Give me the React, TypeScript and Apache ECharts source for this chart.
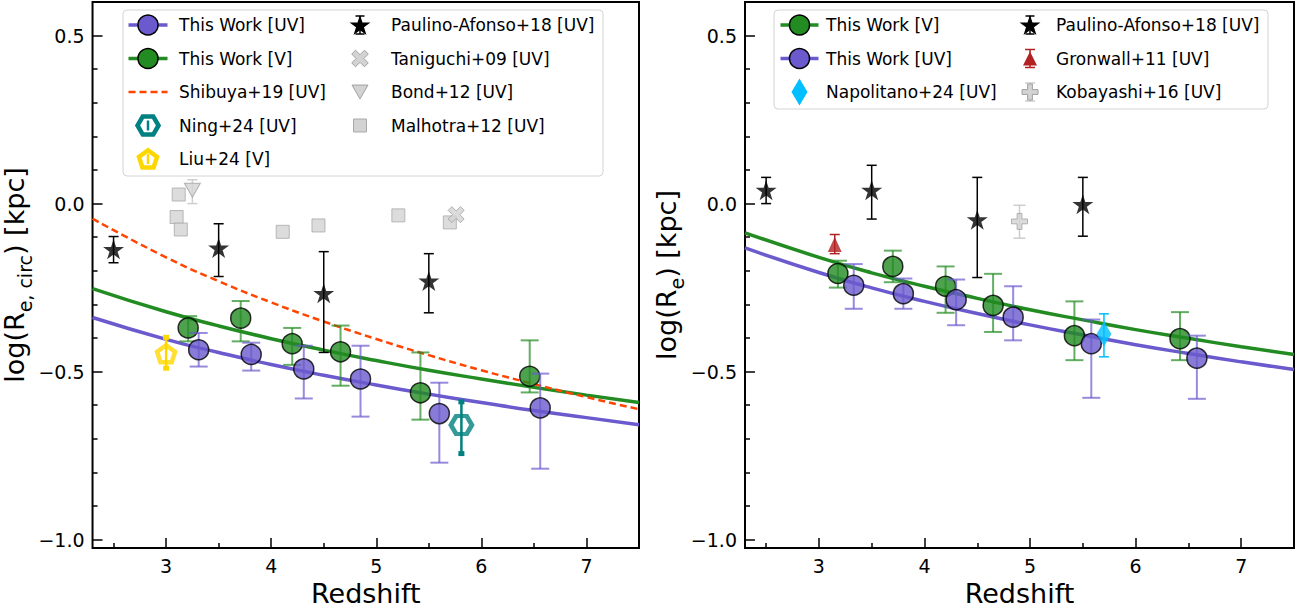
import { useEffect, useRef } from 'react';
import * as echarts from 'echarts';

// ---------------- data ----------------
const FIT_Z = [2.3, 3, 3.5, 4, 4.5, 5, 5.5, 6, 6.5, 7, 7.5];

// Left panel
const L_FIT_UV = [-0.339, -0.404, -0.443, -0.479, -0.511, -0.540, -0.567, -0.592, -0.616, -0.637, -0.658];
const L_FIT_V = [-0.253, -0.322, -0.364, -0.402, -0.436, -0.467, -0.496, -0.522, -0.547, -0.570, -0.592];
const L_SHIBUYA = [-0.045, -0.160, -0.231, -0.294, -0.351, -0.403, -0.451, -0.496, -0.537, -0.576, -0.612];

const L_UV_Z = [3.31, 3.81, 4.31, 4.85, 5.60, 6.56];
const L_UV_R = [-0.435, -0.449, -0.492, -0.522, -0.625, -0.608];
const L_UV_LO = [-0.485, -0.497, -0.580, -0.634, -0.771, -0.789];
const L_UV_HI = [-0.385, -0.414, -0.423, -0.423, -0.533, -0.506];

const L_V_Z = [3.21, 3.71, 4.20, 4.66, 5.42, 6.46];
const L_V_R = [-0.370, -0.341, -0.417, -0.441, -0.563, -0.514];
const L_V_LO = [-0.410, -0.410, -0.480, -0.542, -0.643, -0.562];
const L_V_HI = [-0.335, -0.290, -0.370, -0.363, -0.443, -0.407];

const L_PA_Z = [2.5, 3.5, 4.5, 5.5];
const L_PA_R = [-0.136, -0.132, -0.267, -0.230];
const L_PA_LO = [-0.176, -0.217, -0.443, -0.325];
const L_PA_HI = [-0.098, -0.060, -0.143, -0.149];

const L_TANI_Z = [5.76];
const L_TANI_R = [-0.033];

const L_BOND_Z = [3.25];
const L_BOND_R = [0.040];
const L_BOND_LO = [0.0];
const L_BOND_HI = [0.071];

const L_MAL_Z = [3.12, 3.10, 3.14, 4.11, 4.45, 5.21, 5.70];
const L_MAL_R = [0.027, -0.040, -0.077, -0.084, -0.065, -0.035, -0.056];

const L_NING_Z = [5.81];
const L_NING_R = [-0.659];
const L_NING_LO = [-0.744];
const L_NING_HI = [-0.590];

const L_LIU_Z = [3.0];
const L_LIU_R = [-0.447];
const L_LIU_LO = [-0.490];
const L_LIU_HI = [-0.398];

// Right panel
const R_FIT_V = [-0.087, -0.160, -0.206, -0.246, -0.282, -0.316, -0.346, -0.375, -0.401, -0.426, -0.449];
const R_FIT_UV = [-0.132, -0.205, -0.251, -0.291, -0.327, -0.361, -0.391, -0.420, -0.446, -0.471, -0.494];

const R_V_Z = [3.18, 3.70, 4.20, 4.65, 5.42, 6.42];
const R_V_R = [-0.208, -0.187, -0.246, -0.303, -0.393, -0.402];
const R_V_LO = [-0.250, -0.234, -0.325, -0.382, -0.466, -0.466];
const R_V_HI = [-0.170, -0.140, -0.187, -0.209, -0.291, -0.323];

const R_UV_Z = [3.33, 3.80, 4.30, 4.84, 5.58, 6.58];
const R_UV_R = [-0.243, -0.268, -0.286, -0.338, -0.417, -0.460];
const R_UV_LO = [-0.313, -0.313, -0.362, -0.407, -0.578, -0.581];
const R_UV_HI = [-0.180, -0.223, -0.226, -0.246, -0.345, -0.393];

const R_PA_Z = [2.5, 3.5, 4.5, 5.5];
const R_PA_R = [0.040, 0.040, -0.048, -0.002];
const R_PA_LO = [0.0, -0.046, -0.220, -0.097];
const R_PA_HI = [0.078, 0.114, 0.078, 0.078];

const R_GRON_Z = [3.15];
const R_GRON_R = [-0.122];
const R_GRON_LO = [-0.149];
const R_GRON_HI = [-0.092];

const R_KOBA_Z = [4.90];
const R_KOBA_R = [-0.053];
const R_KOBA_LO = [-0.103];
const R_KOBA_HI = [-0.005];

const R_NAPO_Z = [5.70];
const R_NAPO_R = [-0.388];
const R_NAPO_LO = [-0.456];
const R_NAPO_HI = [-0.328];

// ticks
const X_MAJOR = [3, 4, 5, 6, 7];
const X_MINOR = [2.5, 3.5, 4.5, 5.5, 6.5];
const Y_MAJOR = [-1, -0.5, 0, 0.5];
const Y_MINOR = [-0.9, -0.8, -0.7, -0.6, -0.4, -0.3, -0.2, -0.1, 0.1, 0.2, 0.3, 0.4];

// ---------------- styling ----------------
const FONT = '"DejaVu Sans", sans-serif';
const PURPLE = '#6a5acd';
const GREEN = '#228b22';
const PURPLE_ERR = 'rgba(106,90,205,0.7)';
const GREEN_ERR = 'rgba(34,139,34,0.7)';
const ORANGE = '#ff4500';
const TEAL = '#008080';
const GOLD = '#ffd700';
const FIREBRICK = '#b22222';
const SKY = '#00bfff';
const LGRAY = '#d3d3d3';
const MGRAY = '#a0a0a0';

// unit marker geometries (y down)
const STAR_PTS = [
  [0, -1], [0.2245, -0.309], [0.951, -0.309], [0.363, 0.118], [0.588, 0.809],
  [0, 0.382], [-0.588, 0.809], [-0.363, 0.118], [-0.951, -0.309], [-0.2245, -0.309],
];
const HEX_PTS = [[1, 0], [0.5, 0.866], [-0.5, 0.866], [-1, 0], [-0.5, -0.866], [0.5, -0.866]];
const PENT_PTS = [[0, -1], [0.951, -0.309], [0.588, 0.809], [-0.588, 0.809], [-0.951, -0.309]];
const PLUS_PTS = [
  [-0.3, -1], [0.3, -1], [0.3, -0.3], [1, -0.3], [1, 0.3], [0.3, 0.3],
  [0.3, 1], [-0.3, 1], [-0.3, 0.3], [-1, 0.3], [-1, -0.3], [-0.3, -0.3],
];
const X_PTS = PLUS_PTS.map(([x, y]) => [(x - y) / Math.SQRT2, (x + y) / Math.SQRT2]);
const TRI_UP = [[0, -0.866], [1, 0.866], [-1, 0.866]];
const TRI_DOWN = [[-1, -0.866], [1, -0.866], [0, 0.866]];
const DIAMOND_PTS = [[0, -1], [1, 0], [0, 1], [-1, 0]];

const toPath = (pts: number[][]) =>
  'path://' + pts.map((p, i) => (i ? 'L' : 'M') + (p[0] * 100).toFixed(2) + ' ' + (p[1] * 100).toFixed(2)).join(' ') + ' Z';

const zip = (xs: number[], ys: number[]) => xs.map((x, i) => [x, ys[i]]);
const zip3 = (xs: number[], lo: number[], hi: number[]) => xs.map((x, i) => [x, lo[i], hi[i]]);

const fmtY = (v: number) => {
  const s = Math.abs(v).toFixed(1);
  return v < -1e-9 ? '\u2212' + s : s;
};
const fmtX = (v: number) => String(Math.round(v));

const tickLine = { color: '#000', width: 1.5 };

function makeX(gridIndex: number) {
  return [
    {
      type: 'value', gridIndex, min: 2.3, max: 7.5, position: 'bottom',
      axisLine: { show: false, onZero: false }, splitLine: { show: false },
      axisTick: { show: true, inside: true, length: 10, customValues: X_MAJOR, lineStyle: tickLine },
      axisLabel: { show: true, customValues: X_MAJOR, margin: 8, color: '#000', fontSize: 19, fontFamily: FONT, formatter: fmtX },
      name: 'Redshift', nameLocation: 'middle', nameGap: 26,
      nameTextStyle: { color: '#000', fontSize: 27, fontFamily: FONT },
    },
    {
      type: 'value', gridIndex, min: 2.3, max: 7.5, position: 'bottom',
      axisLine: { show: false, onZero: false }, splitLine: { show: false }, axisLabel: { show: false },
      axisTick: { show: true, inside: true, length: 5, customValues: X_MINOR, lineStyle: tickLine },
    },
  ];
}

function makeY(gridIndex: number, name: string) {
  return [
    {
      type: 'value', gridIndex, min: -1.025, max: 0.6, position: 'left',
      axisLine: { show: false, onZero: false }, splitLine: { show: false },
      axisTick: { show: true, inside: true, length: 10, customValues: Y_MAJOR, lineStyle: tickLine },
      axisLabel: { show: true, customValues: Y_MAJOR, margin: 8, color: '#000', fontSize: 19, fontFamily: FONT, formatter: fmtY },
      name, nameLocation: 'middle', nameGap: 39,
      nameTextStyle: {
        color: '#000', fontSize: 27, fontFamily: FONT,
        rich: { sub: { fontSize: 19, fontFamily: FONT, color: '#000', verticalAlign: 'bottom', lineHeight: 40 } },
      },
    },
    {
      type: 'value', gridIndex, min: -1.025, max: 0.6, position: 'left',
      axisLine: { show: false, onZero: false }, splitLine: { show: false }, axisLabel: { show: false },
      axisTick: { show: true, inside: true, length: 5, customValues: Y_MINOR, lineStyle: tickLine },
    },
  ];
}

const errRender = (color: string, cap: number, lw: number, capLw: number) => (_p: any, api: any) => {
  const x = api.value(0);
  const a = api.coord([x, api.value(1)]);
  const b = api.coord([x, api.value(2)]);
  return {
    type: 'group',
    children: [
      { type: 'line', shape: { x1: a[0], y1: a[1], x2: b[0], y2: b[1] }, style: { stroke: color, lineWidth: lw } },
      { type: 'line', shape: { x1: a[0] - cap, y1: a[1], x2: a[0] + cap, y2: a[1] }, style: { stroke: color, lineWidth: capLw } },
      { type: 'line', shape: { x1: b[0] - cap, y1: b[1], x2: b[0] + cap, y2: b[1] }, style: { stroke: color, lineWidth: capLw } },
    ],
  };
};

function errSeries(ax: number, xs: number[], lo: number[], hi: number[], color: string, cap: number, lw: number, capLw: number, z: number) {
  return {
    type: 'custom', xAxisIndex: ax, yAxisIndex: ax, z, silent: true,
    encode: { x: 0, y: [1, 2] },
    renderItem: errRender(color, cap, lw, capLw),
    data: zip3(xs, lo, hi),
  };
}

function fitSeries(ax: number, ys: number[], color: string, width: number, dashed: boolean, z: number) {
  return {
    type: 'line', xAxisIndex: ax, yAxisIndex: ax, z, silent: true, smooth: true, showSymbol: false,
    lineStyle: { color, width, type: dashed ? [7, 4] : 'solid' },
    data: zip(FIT_Z, ys),
  };
}

function markSeries(ax: number, xs: number[], ys: number[], symbol: string, size: any, itemStyle: any, z: number, rotate = 0) {
  return {
    type: 'scatter', xAxisIndex: ax, yAxisIndex: ax, z, silent: true,
    symbol, symbolSize: size, symbolRotate: rotate, itemStyle,
    data: zip(xs, ys),
  };
}

// ---------------- legend (graphic) ----------------
const poly = (pts: number[][], cx: number, cy: number, sx: number, sy: number, style: any) => ({
  type: 'polygon', z: 101,
  shape: { points: pts.map(([x, y]) => [cx + x * sx, cy + y * sy]) },
  style,
});
const gLine = (x1: number, y1: number, x2: number, y2: number, stroke: string, lineWidth: number, dash?: number[]) => ({
  type: 'line', z: 101, shape: { x1, y1, x2, y2 },
  style: dash ? { stroke, lineWidth, lineDash: dash } : { stroke, lineWidth },
});
const gText = (x: number, y: number, text: string) => ({
  type: 'text', x, y, z: 102,
  style: { text, fill: '#000', fontSize: 17, fontFamily: FONT, align: 'left', verticalAlign: 'middle' },
});
const gCircle = (cx: number, cy: number, fill: string) => ({
  type: 'circle', z: 102, shape: { cx, cy, r: 10 }, style: { fill, stroke: '#000', lineWidth: 1.5 },
});
const gErr = (cx: number, cy: number, half: number, cap: number, color: string, lw: number) => [
  gLine(cx, cy - half, cx, cy + half, color, lw),
  gLine(cx - cap, cy - half, cx + cap, cy - half, color, lw),
  gLine(cx - cap, cy + half, cx + cap, cy + half, color, lw),
];
const gBox = (x: number, y: number, width: number, height: number) => ({
  type: 'rect', z: 100, shape: { x, y, width, height, r: 4 },
  style: { fill: 'rgba(255,255,255,0.85)', stroke: '#d4d4d4', lineWidth: 1 },
});

function leftLegend() {
  const rows = [25, 58.5, 92, 125.5, 159];
  const c1 = 148, c2 = 360, t1 = 179, t2 = 391;
  const els: any[] = [gBox(123, 10, 480, 166)];
  els.push(gLine(c1 - 19.5, rows[0], c1 + 19.5, rows[0], PURPLE, 3.5), gCircle(c1, rows[0], PURPLE), gText(t1, rows[0], 'This Work [UV]'));
  els.push(gLine(c1 - 19.5, rows[1], c1 + 19.5, rows[1], GREEN, 3.5), gCircle(c1, rows[1], GREEN), gText(t1, rows[1], 'This Work [V]'));
  els.push(gLine(c1 - 19.5, rows[2], c1 + 19.5, rows[2], ORANGE, 2.5, [7, 4]), gText(t1, rows[2], 'Shibuya+19 [UV]'));
  els.push(gLine(c1, rows[3] - 5, c1, rows[3] + 5, TEAL, 2.5),
    poly(HEX_PTS, c1, rows[3], 10.5, 10.5, { fill: 'none', stroke: TEAL, lineWidth: 4.5 }), gText(t1, rows[3], 'Ning+24 [UV]'));
  els.push(gLine(c1, rows[4] - 5, c1, rows[4] + 5, GOLD, 2.5),
    poly(PENT_PTS, c1, rows[4] + 0.8, 9.5, 9.5, { fill: 'none', stroke: GOLD, lineWidth: 4.5 }), gText(t1, rows[4], 'Liu+24 [V]'));
  els.push(...gErr(c2, rows[0], 9, 4.5, '#000', 1.5),
    poly(STAR_PTS, c2, rows[0] + 1, 11, 11, { fill: '#000' }), gText(t2, rows[0], 'Paulino-Afonso+18 [UV]'));
  els.push(poly(X_PTS, c2, rows[1], 9, 9, { fill: LGRAY, stroke: MGRAY, lineWidth: 1 }), gText(t2, rows[1], 'Taniguchi+09 [UV]'));
  els.push(poly(TRI_DOWN, c2, rows[2], 8, 8, { fill: LGRAY, stroke: MGRAY, lineWidth: 1 }), gText(t2, rows[2], 'Bond+12 [UV]'));
  els.push({ type: 'rect', z: 101, shape: { x: c2 - 6.5, y: rows[3] - 6.5, width: 13, height: 13 }, style: { fill: LGRAY, stroke: '#a9a9a9', lineWidth: 1 } },
    gText(t2, rows[3], 'Malhotra+12 [UV]'));
  return els;
}

function rightLegend() {
  const rows = [25, 58.5, 92];
  const c1 = 799.5, c2 = 1030, t1 = 826, t2 = 1056;
  const els: any[] = [gBox(774, 10, 494, 99)];
  els.push(gLine(c1 - 19, rows[0], c1 + 19, rows[0], GREEN, 3.5), gCircle(c1, rows[0], GREEN), gText(t1, rows[0], 'This Work [V]'));
  els.push(gLine(c1 - 19, rows[1], c1 + 19, rows[1], PURPLE, 3.5), gCircle(c1, rows[1], PURPLE), gText(t1, rows[1], 'This Work [UV]'));
  els.push(poly(DIAMOND_PTS, c1, rows[2], 8, 13.5, { fill: SKY }), gText(t1, rows[2], 'Napolitano+24 [UV]'));
  els.push(...gErr(c2, rows[0], 9, 4.5, '#000', 1.5),
    poly(STAR_PTS, c2, rows[0] + 1, 11, 11, { fill: '#000' }), gText(t2, rows[0], 'Paulino-Afonso+18 [UV]'));
  els.push(...gErr(c2, rows[1], 9, 5, FIREBRICK, 1.5),
    poly(TRI_UP, c2, rows[1], 7, 8, { fill: FIREBRICK }), gText(t2, rows[1], 'Gronwall+11 [UV]'));
  els.push(...gErr(c2, rows[2], 9, 5, '#cccccc', 1.5),
    poly(PLUS_PTS, c2, rows[2], 8, 8, { fill: LGRAY, stroke: MGRAY, lineWidth: 1 }), gText(t2, rows[2], 'Kobayashi+16 [UV]'));
  return els;
}

function buildOption() {
  const circ = (color: string) => ({ color, borderColor: '#000', borderWidth: 1.5 });
  const grayMark = { color: LGRAY, borderColor: MGRAY, borderWidth: 1 };
  const L = 0, R = 2;
  const series: any[] = [
    // ----- left panel -----
    fitSeries(L, L_FIT_V, GREEN, 3.5, false, 2),
    fitSeries(L, L_FIT_UV, PURPLE, 3.5, false, 2),
    fitSeries(L, L_SHIBUYA, ORANGE, 2.5, true, 2),
    errSeries(L, L_PA_Z, L_PA_LO, L_PA_HI, '#000', 5, 1.5, 1.5, 3),
    markSeries(L, L_PA_Z, L_PA_R, toPath(STAR_PTS), [21, 20], { color: '#000' }, 4),
    errSeries(L, L_BOND_Z, L_BOND_LO, L_BOND_HI, '#cfcfcf', 5, 1.5, 1.5, 3),
    markSeries(L, L_BOND_Z, L_BOND_R, 'triangle', [16, 14], grayMark, 4, 180),
    markSeries(L, L_MAL_Z, L_MAL_R, 'rect', [13, 13], { color: LGRAY, borderColor: '#a9a9a9', borderWidth: 1 }, 4),
    markSeries(L, L_TANI_Z, L_TANI_R, toPath(X_PTS), [16, 16], grayMark, 4),
    errSeries(L, L_NING_Z, L_NING_LO, L_NING_HI, TEAL, 3, 2.5, 5, 3),
    markSeries(L, L_NING_Z, L_NING_R, toPath(HEX_PTS), [21, 18], { color: 'rgba(0,0,0,0)', borderColor: TEAL, borderWidth: 4.5 }, 4),
    errSeries(L, L_LIU_Z, L_LIU_LO, L_LIU_HI, GOLD, 3, 2.5, 5, 3),
    markSeries(L, L_LIU_Z, L_LIU_R, toPath(PENT_PTS), [18, 17], { color: 'rgba(0,0,0,0)', borderColor: GOLD, borderWidth: 4.5 }, 4),
    errSeries(L, L_V_Z, L_V_LO, L_V_HI, GREEN_ERR, 9, 2, 2, 3),
    markSeries(L, L_V_Z, L_V_R, 'circle', 20, circ(GREEN), 4),
    errSeries(L, L_UV_Z, L_UV_LO, L_UV_HI, PURPLE_ERR, 9, 2, 2, 5),
    markSeries(L, L_UV_Z, L_UV_R, 'circle', 20, circ(PURPLE), 6),
    // ----- right panel -----
    fitSeries(R, R_FIT_V, GREEN, 3.5, false, 2),
    fitSeries(R, R_FIT_UV, PURPLE, 3.5, false, 2),
    errSeries(R, R_PA_Z, R_PA_LO, R_PA_HI, '#000', 5, 1.5, 1.5, 3),
    markSeries(R, R_PA_Z, R_PA_R, toPath(STAR_PTS), [21, 20], { color: '#000' }, 4),
    errSeries(R, R_GRON_Z, R_GRON_LO, R_GRON_HI, FIREBRICK, 5, 1.5, 1.5, 3),
    markSeries(R, R_GRON_Z, R_GRON_R, 'triangle', [14, 15], { color: FIREBRICK }, 4),
    errSeries(R, R_KOBA_Z, R_KOBA_LO, R_KOBA_HI, '#cccccc', 6, 1.5, 1.5, 3),
    markSeries(R, R_KOBA_Z, R_KOBA_R, toPath(PLUS_PTS), [16, 16], grayMark, 4),
    errSeries(R, R_V_Z, R_V_LO, R_V_HI, GREEN_ERR, 9, 2, 2, 3),
    markSeries(R, R_V_Z, R_V_R, 'circle', 20, circ(GREEN), 4),
    errSeries(R, R_UV_Z, R_UV_LO, R_UV_HI, PURPLE_ERR, 9, 2, 2, 5),
    markSeries(R, R_UV_Z, R_UV_R, 'circle', 20, circ(PURPLE), 6),
    errSeries(R, R_NAPO_Z, R_NAPO_LO, R_NAPO_HI, SKY, 5, 1.5, 1.5, 7),
    markSeries(R, R_NAPO_Z, R_NAPO_R, 'diamond', [15, 25], { color: SKY }, 7),
  ];

  return {
    animation: false,
    backgroundColor: '#fff',
    textStyle: { fontFamily: FONT },
    grid: [
      { left: 90, top: 2, width: 549, height: 546, show: true, borderColor: '#000', borderWidth: 2, backgroundColor: 'transparent' },
      { left: 745, top: 2, width: 549, height: 546, show: true, borderColor: '#000', borderWidth: 2, backgroundColor: 'transparent' },
    ],
    xAxis: [...makeX(0), ...makeX(1)],
    yAxis: [
      ...makeY(0, 'log(R{sub|e, circ}) [kpc]'),
      ...makeY(1, 'log(R{sub|e}) [kpc]'),
    ],
    series,
    graphic: [...leftLegend(), ...rightLegend()],
  };
}

export default function App() {
  const ref = useRef<HTMLDivElement>(null);
  useEffect(() => {
    document.body.style.margin = '0';
    const chart = echarts.init(ref.current!, undefined, { renderer: 'svg' });
    chart.setOption(buildOption() as any);
    return () => chart.dispose();
  }, []);
  return <div ref={ref} style={{ width: 1300, height: 613 }} />;
}
